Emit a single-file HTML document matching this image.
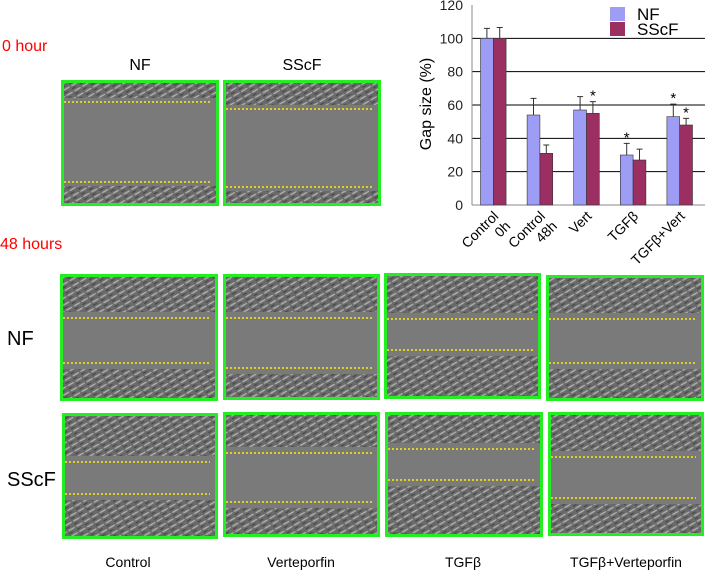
<!DOCTYPE html>
<html><head><meta charset="utf-8">
<style>
html,body{margin:0;padding:0;background:#fff;width:708px;height:570px;overflow:hidden;font-family:"Liberation Sans",sans-serif;}
svg{display:block}
</style></head>
<body>
<svg id="fig" width="708" height="570" xmlns="http://www.w3.org/2000/svg">
<defs>
<pattern id="cells" width="9" height="6" patternUnits="userSpaceOnUse" patternTransform="rotate(-30)">
<rect width="9" height="6" fill="#6a6a6a"/>
<ellipse cx="4.5" cy="2" rx="4" ry="0.8" fill="#b0b0b0"/>
<ellipse cx="2" cy="5" rx="3" ry="0.6" fill="#454545"/>
</pattern>
</defs>
<text x="2" y="51" font-size="16" fill="#ff0000">0 hour</text>
<text x="140" y="70" font-size="16" text-anchor="middle">NF</text>
<text x="302" y="70" font-size="16" text-anchor="middle">SScF</text>
<text x="0" y="249" font-size="16" fill="#ff0000">48 hours</text>
<text x="7" y="345" font-size="20">NF</text>
<text x="7" y="486" font-size="20">SScF</text>
<text x="128" y="567" font-size="14" text-anchor="middle">Control</text>
<text x="301" y="567" font-size="14" text-anchor="middle">Verteporfin</text>
<text x="463" y="567" font-size="14" text-anchor="middle">TGFβ</text>
<text x="626" y="567" font-size="14" text-anchor="middle">TGFβ+Verteporfin</text>
<g id="panels"></g>
<g id="chart"></g>
</svg>
<script>
const panelNames=['nf-0h','sscf-0h','nf-control','nf-vert','nf-tgfb','nf-tgfb-vert','sscf-control','sscf-vert','sscf-tgfb','sscf-tgfb-vert'];
const panelBoxes=[[61,80,219,206,102,182],[223,80,381,206,109,187],
[60,274,218,401,318,363],[223,274,380,400,318,368],[384,273,541,399,319,350],[546,275,704,401,319,363],
[62,413,218,539,462,494],[223,412,380,537,453,502],[385,412,543,537,449,480],[548,412,704,536,457,498]];
const NS='http://www.w3.org/2000/svg';
const pg=document.getElementById('panels');
function mk(t,a,p){const e=document.createElementNS(NS,t);for(const k in a)e.setAttribute(k,a[k]);(p||pg).appendChild(e);return e;}
panelBoxes.forEach((b,i)=>{
 const g=mk('g',{});
 
 
 const [x0,y0,x1,y1,d1,d2]=b;
 const top0=i<2;
 mk('rect',{x:x0,y:y0,width:x1-x0,height:y1-y0,fill:'url(#cells)'},g);
 mk('rect',{x:x0,y:top0?d1-4:d1-6,width:x1-x0,height:d2-d1+(top0?8:12),fill:'#7a7a7a'},g);
 mk('rect',{x:x0+1.5,y:y0+1.5,width:x1-x0-3,height:y1-y0-3,fill:'none',stroke:'#22ee22','stroke-width':3},g);
 mk('line',{x1:x0+3,x2:x1-8,y1:d1,y2:d1,stroke:'#ffee00','stroke-width':1.5,'stroke-dasharray':'2,2'},g);
 mk('line',{x1:x0+3,x2:x1-8,y1:d2,y2:d2,stroke:'#ffee00','stroke-width':1.5,'stroke-dasharray':'2,2'},g);
});
</script>
<script>
const categories=['Control 0h','Control 48h','Vert','TGFβ','TGFβ+Vert'];
const catLine1=['Control','Control','Vert','TGFβ','TGFβ+Vert'];
const catLine2=['0h','48h','','',''];
const nfValues=[100,54,57,30,53];
const sscfValues=[100,31,55,27,48];
const nfErr=[6,10,8,7,7.5];
const sscfErr=[6.5,5,7,6.5,4];
const nfStar=[false,false,false,true,true];
const sscfStar=[false,false,true,false,true];
const yTicks=[0,20,40,60,80,100,120];
(function(){
 const cg=document.getElementById('chart');
 function mk(t,a,p){const e=document.createElementNS('http://www.w3.org/2000/svg',t);for(const k in a)e.setAttribute(k,a[k]);(p||cg).appendChild(e);return e;}
 const left=472,right=705,y0=205,yTop=5,ymax=120;
 const y=v=>y0-(v/ymax)*(y0-yTop);
 const band=(right-left)/categories.length;
 const cx=i=>left+band*(i+0.5)-2;
 const bw=12.8;
 yTicks.forEach(t=>{
  if(t>0&&t<120){const l=mk('line',{x1:left,x2:right,y1:y(t),y2:y(t),stroke:'#000','stroke-width':1});
  }
  const tx=mk('text',{x:463,y:y(t)+5,'font-size':14,'text-anchor':'end',fill:'#222'});
  tx.textContent=t;
  
  
 });
 const ax=mk('line',{x1:left,x2:left,y1:yTop,y2:y0,stroke:'#888','stroke-width':1});
 
 
 const base=mk('line',{x1:left,x2:right,y1:y0,y2:y0,stroke:'#888','stroke-width':1});
 
 
 const yt=mk('text',{x:0,y:0,'font-size':16,'text-anchor':'middle',transform:'translate(431,104) rotate(-90)'});
 yt.textContent='Gap size (%)';
 
 
 categories.forEach((c,i)=>{
  const series=[[nfValues,nfErr,nfStar,'#9d9df5','nf',-bw],[sscfValues,sscfErr,sscfStar,'#9b2f62','sscf',0]];
  series.forEach(s=>{
   const v=s[0][i],e=s[1][i];
   const bx=cx(i)+s[5];
   const r=mk('rect',{x:bx,y:y(v),width:bw,height:y0-y(v),fill:s[3],stroke:'#333','stroke-width':0.6});
   
   
   const ex=bx+bw/2;
   const el=mk('path',{d:`M${ex},${y(v)}V${y(v+e)}M${ex-3},${y(v+e)}H${ex+3}`,stroke:'#333','stroke-width':1,fill:'none'});
   
   
   if(s[2][i]){const st=mk('text',{x:ex,y:y(v+e)-1,'font-size':15,'text-anchor':'middle'});
    st.textContent='*';
    
    }
  });
  const lx=cx(i)+6,ly=y0+12;
  const t=mk('text',{'font-size':14,'text-anchor':'end',transform:`translate(${lx},${ly}) rotate(-45)`});
  t.textContent=catLine1[i];
  
  
  if(catLine2[i]){
   const t2=mk('text',{'font-size':14,'text-anchor':'end',transform:`translate(${lx+12},${ly+10}) rotate(-45)`});
   t2.textContent=catLine2[i];
   
   }
 });
 const leg=[['NF','#9d9df5',7],['SScF','#9b2f62',22]];
 leg.forEach(l=>{
  const g=mk('g',{});
  
  
  mk('rect',{x:610,y:l[2],width:15,height:14,fill:l[1]},g);
  const t=mk('text',{x:637,y:l[2]+13,'font-size':17},g);t.textContent=l[0];
 });
})();
</script>
</body></html>
